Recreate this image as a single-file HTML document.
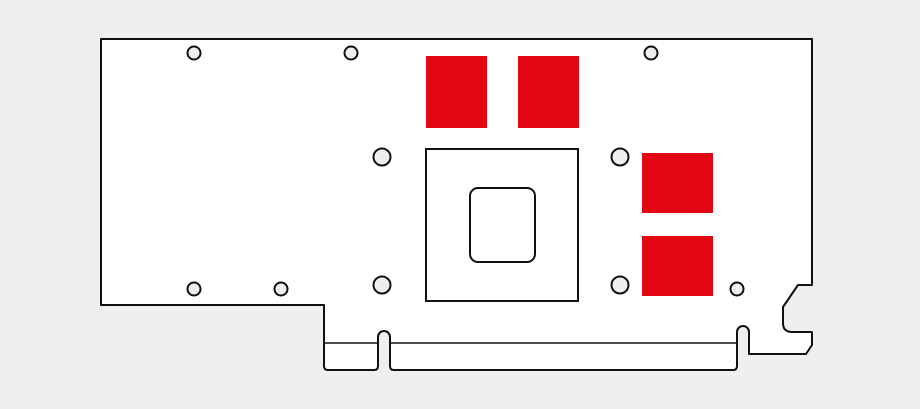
<!DOCTYPE html>
<html><head><style>html,body{margin:0;padding:0;background:#efefef}svg{display:block}</style></head>
<body>
<svg width="920" height="409" viewBox="0 0 920 409" xmlns="http://www.w3.org/2000/svg">
<rect width="920" height="409" fill="#efefef"/>
<path d="M101,39 H812 V285 H798 L783,307 V323 Q783,332 792,332 H812 V345 L806,354 H749 V332 A6,6 0 0 0 737,332 V366 Q737,370 733,370 H394 Q390,370 390,366 V337 A6,6 0 0 0 378,337 V366 Q378,370 374,370 H328 Q324,370 324,366 V305 H101 Z" fill="#fff" stroke="#111" stroke-width="2" stroke-linejoin="round"/>
<line x1="324" y1="343" x2="378" y2="343" stroke="#111" stroke-width="1.5"/>
<line x1="390" y1="343" x2="737" y2="343" stroke="#111" stroke-width="1.5"/>
<g fill="#e30613">
<rect x="426" y="56" width="61" height="72"/>
<rect x="518" y="56" width="61" height="72"/>
<rect x="642" y="153" width="71" height="60"/>
<rect x="642" y="236" width="71" height="60"/>
</g>
<rect x="426" y="149" width="152" height="152" fill="#fff" stroke="#111" stroke-width="2"/>
<rect x="470" y="188" width="65" height="74" rx="8" fill="#fff" stroke="#111" stroke-width="2"/>
<g fill="#eee" stroke="#111" stroke-width="2">
<circle cx="194" cy="53" r="6.5"/>
<circle cx="351" cy="53" r="6.5"/>
<circle cx="651" cy="53" r="6.5"/>
<circle cx="382" cy="157" r="8.5"/>
<circle cx="620" cy="157" r="8.5"/>
<circle cx="382" cy="285" r="8.5"/>
<circle cx="620" cy="285" r="8.5"/>
<circle cx="194" cy="289" r="6.5"/>
<circle cx="281" cy="289" r="6.5"/>
<circle cx="737" cy="289" r="6.5"/>
</g>
</svg>
</body></html>
